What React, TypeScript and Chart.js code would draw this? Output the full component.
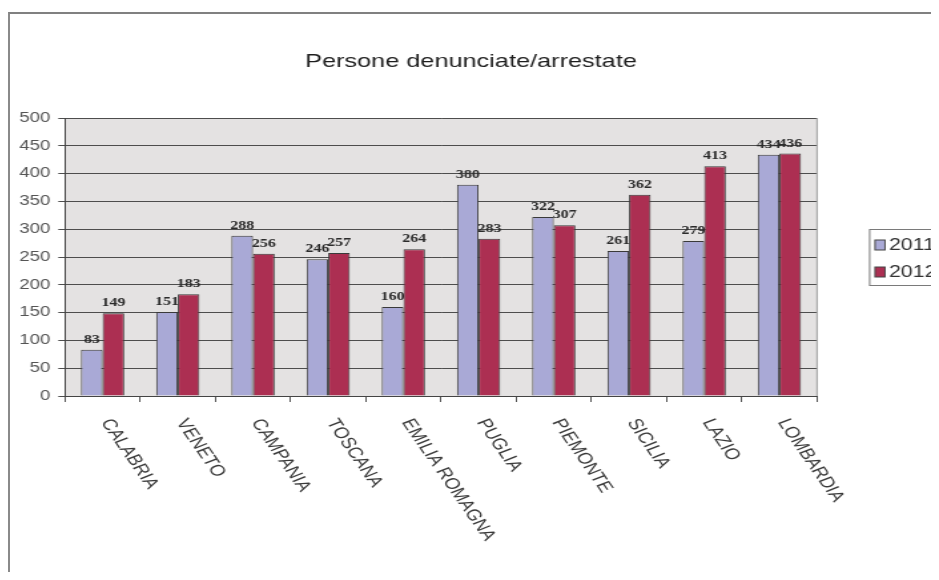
import React, { useEffect, useRef } from "react";
import { Chart, registerables } from "chart.js";

Chart.register(...registerables);

// ---- data ----
const chartTitle = "Persone denunciate/arrestate";
const regions = [
  "CALABRIA",
  "VENETO",
  "CAMPANIA",
  "TOSCANA",
  "EMILIA ROMAGNA",
  "PUGLIA",
  "PIEMONTE",
  "SICILIA",
  "LAZIO",
  "LOMBARDIA",
];
const values2011 = [83, 151, 288, 246, 160, 380, 322, 261, 279, 434];
const values2012 = [149, 183, 256, 257, 264, 283, 307, 362, 413, 436];
const seriesNames = ["2011", "2012"];
const seriesColors = ["#a9a9d6", "#ac2f52"];
const yMin = 0;
const yMax = 500;
const yStep = 50;

// horizontal stretch of the original picture
const S = 921 / 692;
const OUTER_W = 929;
const INNER_W = OUTER_W / S;
const H = 558;

const SANS = '"Liberation Sans", Arial, sans-serif';
const SERIF = '"Liberation Serif", "Times New Roman", serif';

const plotBg = {
  id: "plotBg",
  beforeDraw(chart: any) {
    const { ctx, chartArea } = chart;
    ctx.save();
    ctx.fillStyle = "#e4e2e2";
    ctx.fillRect(chartArea.left, chartArea.top, chartArea.right - chartArea.left, chartArea.bottom - chartArea.top);
    ctx.restore();
  },
  afterDraw(chart: any) {
    const { ctx, chartArea } = chart;
    ctx.save();
    ctx.strokeStyle = "#9a9a9a";
    ctx.lineWidth = 1;
    ctx.beginPath();
    ctx.moveTo(chartArea.right, chartArea.top);
    ctx.lineTo(chartArea.right, chartArea.bottom);
    ctx.stroke();
    ctx.restore();
  },
};

const titlePlugin = {
  id: "titlePlugin",
  afterDraw(chart: any) {
    const { ctx } = chart;
    ctx.save();
    ctx.font = "19px " + SANS;
    ctx.fillStyle = "#1e1e1e";
    ctx.textAlign = "center";
    ctx.textBaseline = "middle";
    ctx.fillText(chartTitle, 461 / S, 48);
    ctx.restore();
  },
};

const valueLabels = {
  id: "valueLabels",
  afterDatasetsDraw(chart: any) {
    const { ctx } = chart;
    ctx.save();
    ctx.font = "bold 12px " + SERIF;
    ctx.fillStyle = "#2b2b2b";
    ctx.textAlign = "center";
    ctx.textBaseline = "alphabetic";
    chart.data.datasets.forEach((ds: any, di: number) => {
      const meta = chart.getDatasetMeta(di);
      meta.data.forEach((bar: any, i: number) => {
        ctx.fillText(String(ds.data[i]), bar.x, bar.y - 7);
      });
    });
    ctx.restore();
  },
};

const slantedLabels = {
  id: "slantedLabels",
  afterDraw(chart: any) {
    const { ctx, chartArea } = chart;
    const xs = chart.scales.x;
    const angle = Math.atan(Math.tan((55 * Math.PI) / 180) * S);
    ctx.save();
    ctx.font = "15.5px " + SANS;
    ctx.fillStyle = "#3a3a3a";
    ctx.textAlign = "left";
    ctx.textBaseline = "middle";
    chart.data.labels.forEach((lab: string, i: number) => {
      const x = xs.getPixelForValue(i) + 3 / S;
      const y = chartArea.bottom + 24;
      ctx.save();
      ctx.translate(x, y);
      ctx.rotate(angle);
      ctx.fillText(lab, 0, 0);
      ctx.restore();
    });
    ctx.restore();
  },
};

const sideLegend = {
  id: "sideLegend",
  afterDraw(chart: any) {
    const { ctx } = chart;
    const left = 859 / S;
    const top = 215;
    const bottom = 271;
    ctx.save();
    ctx.fillStyle = "#ffffff";
    ctx.fillRect(left, top, 80, bottom - top);
    ctx.strokeStyle = "#7a7a7a";
    ctx.lineWidth = 1;
    ctx.strokeRect(left + 0.5, top + 0.5, 80, bottom - top);
    ctx.font = "16px " + SANS;
    ctx.textAlign = "left";
    ctx.textBaseline = "middle";
    chart.data.datasets.forEach((ds: any, i: number) => {
      const cy = 231 + i * 27;
      ctx.fillStyle = ds.backgroundColor;
      ctx.fillRect(865 / S, cy - 5, 10 / S, 10);
      ctx.strokeStyle = "#444";
      ctx.strokeRect(865 / S, cy - 5, 10 / S, 10);
      ctx.fillStyle = "#333";
      ctx.fillText(ds.label, 879 / S, cy + 1);
    });
    ctx.restore();
  },
};

export default function App() {
  const ref = useRef<HTMLCanvasElement | null>(null);

  useEffect(() => {
    if (!ref.current) return;
    const chart = new Chart(ref.current, {
      type: "bar",
      data: {
        labels: regions,
        datasets: [
          {
            label: seriesNames[0],
            data: values2011,
            backgroundColor: seriesColors[0],
            borderColor: "#3a3a3a",
            borderWidth: 1,
            barPercentage: 1,
            categoryPercentage: 0.575,
          },
          {
            label: seriesNames[1],
            data: values2012,
            backgroundColor: seriesColors[1],
            borderColor: "#3a3a3a",
            borderWidth: 1,
            barPercentage: 1,
            categoryPercentage: 0.575,
          },
        ],
      },
      options: {
        animation: false,
        responsive: true,
        maintainAspectRatio: false,
        layout: { padding: { left: 0, right: INNER_W - 807 / S, top: 104, bottom: 0 } },
        plugins: {
          legend: { display: false },
          tooltip: { enabled: false },
          title: { display: false },
        },
        scales: {
          x: {
            offset: true,
            grid: {
              display: true,
              offset: true,
              drawOnChartArea: false,
              drawTicks: true,
              tickLength: 6,
              color: "#555",
            },
            border: { color: "#444", width: 1 },
            ticks: { display: false },
            afterFit: (s: any) => {
              s.height = 176;
            },
          },
          y: {
            min: yMin,
            max: yMax,
            ticks: {
              stepSize: yStep,
              color: "#555",
              font: { family: SANS, size: 14 },
              padding: 6,
            },
            grid: { color: "#4d4d4d", tickLength: 5, lineWidth: 1 },
            border: { color: "#444", width: 1 },
            afterFit: (s: any) => {
              s.width = 55 / S;
            },
          },
        },
      },
      plugins: [plotBg, valueLabels, slantedLabels, sideLegend, titlePlugin],
    });
    return () => chart.destroy();
  }, []);

  return (
    <div
      style={{
        marginTop: 4,
        borderTop: "2px solid #808080",
        borderLeft: "2px solid #8a8a8a",
        width: OUTER_W,
        height: H,
        overflow: "hidden",
        background: "#fff",
      }}
    >
      <div
        style={{
          width: INNER_W,
          height: H,
          transform: `scaleX(${S})`,
          transformOrigin: "0 0",
          position: "relative",
        }}
      >
        <canvas ref={ref} />
      </div>
    </div>
  );
}
